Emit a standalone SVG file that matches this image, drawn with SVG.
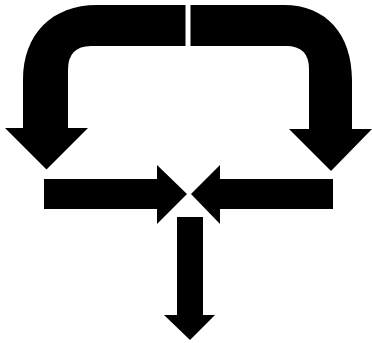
<svg xmlns="http://www.w3.org/2000/svg" width="372" height="343" viewBox="0 0 372 343">
<style>
.a{fill:#000;stroke:none}
</style>
<rect width="372" height="343" fill="#fff"/>
<g id="bent-left">
<path class="a" d="M185.5,5 L97,5 C52,5 23,34 23,80 L23,128 L5,128 L46.5,169.5 L88,128 L68,128 L68,70 Q68,46 91,46 L185.5,46 Z"/>
</g>
<g id="bent-right">
<path class="a" d="M190.5,5 L284,5 C326,5 352,34 352,80 L352,129 L372,129 L331,171 L289,129 L309,129 L309,69 Q309,46 286,46 L190.5,46 Z"/>
</g>
<g id="arrow-right">
<path class="a" d="M44,179 L157,179 L157,165 L187,194 L157,224 L157,209 L44,209 Z"/>
</g>
<g id="arrow-left">
<path class="a" d="M333,179 L220,179 L220,165 L191,194 L220,224 L220,209 L333,209 Z"/>
</g>
<g id="arrow-down">
<path class="a" d="M177,217 L203,217 L203,315 L215,315 L190,340 L164,315 L177,315 Z"/>
</g>
</svg>
